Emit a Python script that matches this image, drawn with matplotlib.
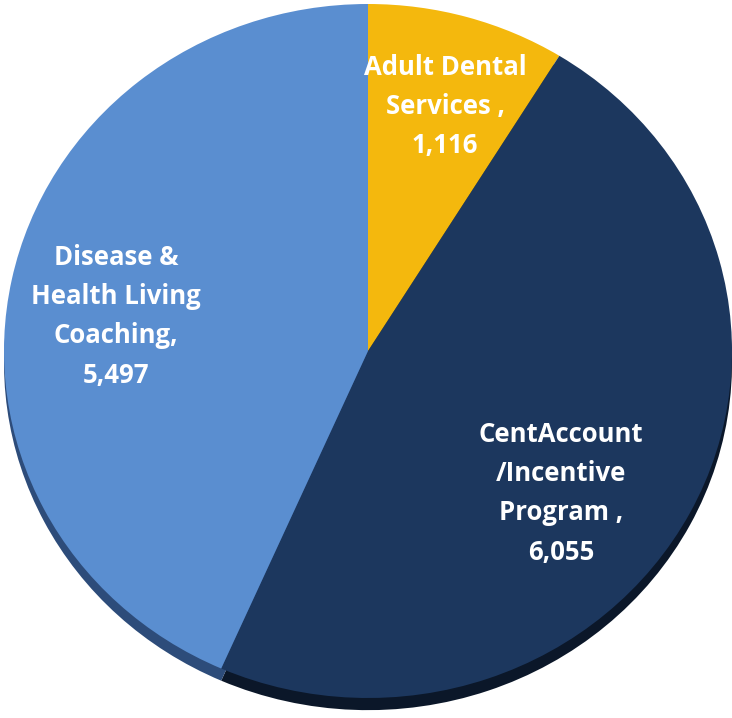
import matplotlib
matplotlib.use('Agg')
import matplotlib.pyplot as plt

# data
labels = ['Adult Dental\nServices ,\n1,116', 'CentAccount\n/Incentive\nProgram ,\n6,055', 'Disease &\nHealth Living\nCoaching,\n5,497']
values = [1116, 6055, 5497]
colors = ['#F4B80D', '#1C375E', '#5A8ED0']
side_colors = ['#9c7406', '#0b1729', '#2d4c7a']

# where the text goes (data coords, pie radius = 1)
label_pos = [(0.212, 0.705), (0.53, -0.41), (-0.692, 0.10)]

fig = plt.figure(figsize=(7.32, 7.18), dpi=100)
ax = fig.add_axes([0, 0, 1, 1])

# 3d-ish side rim, drawn below the top face
ax.pie(values, colors=side_colors, startangle=90, counterclock=False,
       center=(0, -0.035), radius=1.0, wedgeprops=dict(linewidth=0))
ax.pie(values, colors=colors, startangle=90, counterclock=False,
       radius=1.0, wedgeprops=dict(linewidth=0))

for txt, (x, y) in zip(labels, label_pos):
    ax.text(x, y, txt, ha='center', va='center', color='white',
            fontsize=18.5, fontweight='bold', family='Open Sans', linespacing=1.58)

ax.set_aspect('auto')
ax.set_xlim(-368/364, 364/364)
ax.set_ylim(-367/347, 351/347)
ax.axis('off')

fig.savefig('out.png', dpi=100)
